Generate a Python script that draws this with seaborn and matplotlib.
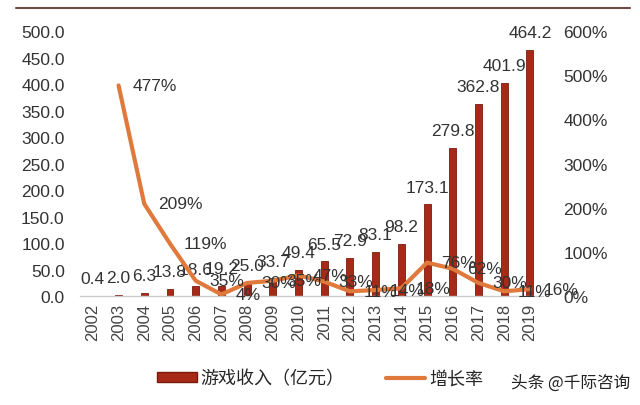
import numpy as np
import pandas as pd
import matplotlib
matplotlib.use("Agg")
import matplotlib.pyplot as plt
import seaborn as sns
from matplotlib.patches import Patch
from matplotlib.lines import Line2D

years = ["2002", "2003", "2004", "2005", "2006", "2007", "2008", "2009", "2010",
         "2011", "2012", "2013", "2014", "2015", "2016", "2017", "2018", "2019"]
revenue = [0.4, 2.0, 6.3, 13.8, 18.6, 19.2, 25.0, 33.7, 49.4,
           65.5, 72.9, 83.1, 98.2, 173.1, 279.8, 362.8, 401.9, 464.2]
growth = [np.nan, 477, 209, 119, 35, 4, 30, 35, 47,
          33, 11, 14, 18, 76, 62, 30, 11, 16]
rev_labels = ["0.4", "2.0", "6.3", "13.8", "18.6", "19.2", "25.0", "33.7", "49.4",
              "65.5", "72.9", "83.1", "98.2", "173.1", "279.8", "362.8", "401.9", "464.2"]
left_ticks = [0, 50, 100, 150, 200, 250, 300, 350, 400, 450, 500]
right_ticks = [0, 100, 200, 300, 400, 500, 600]

sns.set_theme(style="white")
plt.rcParams['font.family'] = ['Liberation Sans', 'Noto Sans CJK SC', 'DejaVu Sans']

bar_color = "#A62A17"
line_color = "#E07A3C"
text_color = "#333333"

df = pd.DataFrame({"year": years, "revenue": revenue, "growth": growth,
                   "pos": np.arange(len(years))})

fig = plt.figure(figsize=(6.4, 4.06), dpi=100)
ax = fig.add_axes([0.125, 0.268, 0.723, 0.653])
sns.barplot(data=df, x="year", y="revenue", color=bar_color, width=0.27,
            edgecolor="#7a1a0c", linewidth=0.6, saturation=1, ax=ax)
ax.set_ylim(0, 500)
ax.set_xlim(-0.5, len(years) - 0.5)
ax.set_yticks(left_ticks)
ax.set_yticklabels([f"{v:.1f}" for v in left_ticks], fontsize=12.5, color=text_color)
ax.tick_params(axis="y", length=0, pad=11)
ax.tick_params(axis="x", length=0, pad=5)
ax.set_xticks(df["pos"])
ax.set_xticklabels(years, rotation=90, fontsize=12, color="#444444")
ax.set_xlabel("")
ax.set_ylabel("")
for s in ["top", "right", "left"]:
    ax.spines[s].set_visible(False)
ax.spines["bottom"].set_color("#cccccc")
ax.spines["bottom"].set_linewidth(1.0)
ax.bar_label(ax.containers[0], labels=rev_labels, padding=7, fontsize=12.5, color=text_color)

ax2 = ax.twinx()
sns.lineplot(data=df, x="pos", y="growth", color=line_color, linewidth=3.0, ax=ax2,
             legend=False)
ax2.set_ylim(0, 600)
ax2.set_yticks(right_ticks)
ax2.set_yticklabels([f"{v}%" for v in right_ticks], fontsize=12.5, color=text_color)
ax2.tick_params(axis="y", length=0, pad=15)
ax2.set_ylabel("")
ax2.set_xlabel("")
for s in ["top", "right", "left", "bottom"]:
    ax2.spines[s].set_visible(False)
for p, g in zip(df["pos"], growth):
    if not np.isnan(g):
        ax2.annotate(f"{g:.0f}%", (p, g), xytext=(10, 0), textcoords="offset points",
                     ha="left", va="center", fontsize=12.5, color=text_color)

# top rule
fig.add_artist(Line2D([0.025, 0.985], [0.978, 0.978], transform=fig.transFigure,
                      color="#6e4a44", linewidth=1.5))

handles = [Patch(facecolor=bar_color, edgecolor="#7a1a0c"),
           Line2D([0], [0], color=line_color, linewidth=3)]
fig.legend(handles, ["游戏收入（亿元）", "增长率"], loc="center", ncol=2,
           bbox_to_anchor=(0.5, 0.065), frameon=False,
           handlelength=2.2, handleheight=0.5, columnspacing=2.3, handletextpad=0.2,
           prop={"family": ["Noto Sans CJK SC"], "size": 13})
fig.text(0.985, 0.055, "头条 @千际咨询", ha="right", va="center", fontsize=12,
         color="#222222", family=["Noto Sans CJK SC"])

fig.savefig("out.png", dpi=100)
